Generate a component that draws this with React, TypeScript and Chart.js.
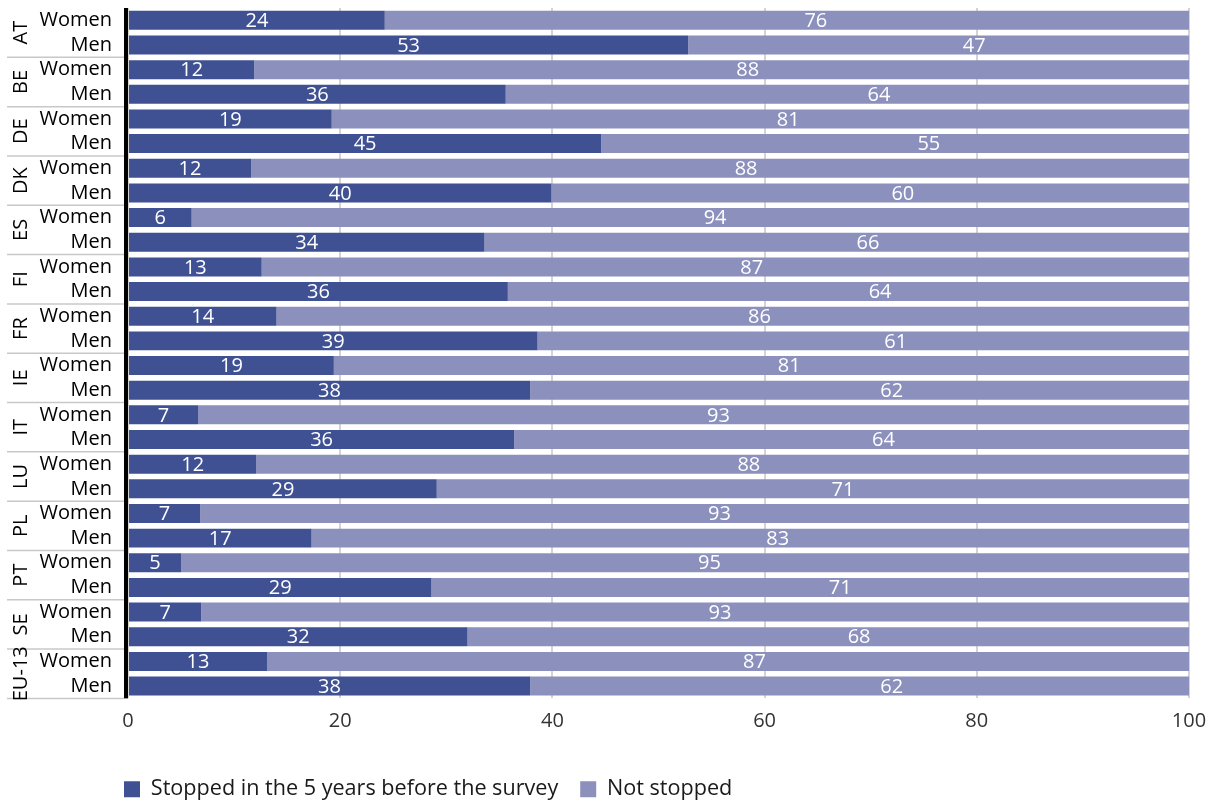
import React, { useEffect, useRef } from "react";
import { Chart, registerables } from "chart.js";

Chart.register(...registerables);

const countries = ["AT", "BE", "DE", "DK", "ES", "FI", "FR", "IE", "IT", "LU", "PL", "PT", "SE", "EU-13"];
const genders = ["Women", "Men"];
const womenStopped = [24.2, 11.9, 19.2, 11.6, 6.0, 12.6, 14.0, 19.4, 6.6, 12.1, 6.8, 5.0, 6.9, 13.1];
const womenNotStopped = [75.8, 88.1, 80.8, 88.4, 94.0, 87.4, 86.0, 80.6, 93.4, 87.9, 93.2, 95.0, 93.1, 86.9];
const menStopped = [52.8, 35.6, 44.6, 39.9, 33.6, 35.8, 38.6, 37.9, 36.4, 29.1, 17.3, 28.6, 32.0, 37.9];
const menNotStopped = [47.2, 64.4, 55.4, 60.1, 66.4, 64.2, 61.4, 62.1, 63.6, 70.9, 82.7, 71.4, 68.0, 62.1];
const seriesNames = ["Stopped in the 5 years before the survey", "Not stopped"];
const xMin = 0;
const xMax = 100;
const xStep = 20;

const FONT = "'Open Sans', 'Noto Sans', sans-serif";
const DARK = "#3f5193";
const LIGHT = "#8b90bd";

const overlayPlugin = {
  id: "overlay",
  beforeDraw(chart: any) {
    // start the legend row under the y axis line
    const lg = chart.legend;
    if (lg) {
      lg.left = chart.chartArea.left - 26;
    }
  },
  afterDatasetsDraw(chart: any) {
    const { ctx, chartArea } = chart;
    const yScale = chart.scales.y;
    ctx.save();

    // data labels
    ctx.font = `20px ${FONT}`;
    ctx.fillStyle = "#ffffff";
    ctx.textAlign = "center";
    ctx.textBaseline = "middle";
    chart.data.datasets.forEach((ds: any, di: number) => {
      const meta = chart.getDatasetMeta(di);
      meta.data.forEach((bar: any, i: number) => {
        const v = ds.data[i];
        const p = bar.getProps(["x", "y", "base"], true);
        let cx = (p.x + p.base) / 2;
        if (di === 1) cx = chartArea.left + (cx - chartArea.left) * 1.044;
        ctx.fillText(String(Math.round(v)), cx, p.y + 1);
      });
    });

    // y axis black line
    ctx.fillStyle = "#000000";
    ctx.fillRect(chartArea.left - 4, chartArea.top, 4, chartArea.bottom - chartArea.top);

    // group separators
    ctx.strokeStyle = "#c8c8c8";
    ctx.lineWidth = 1.5;
    for (let g = 0; g < countries.length; g++) {
      let yy: number;
      if (g === countries.length - 1) yy = chartArea.bottom;
      else yy = (yScale.getPixelForValue(2 * g + 1) + yScale.getPixelForValue(2 * g + 2)) / 2;
      ctx.beginPath();
      ctx.moveTo(7, yy);
      ctx.lineTo(chartArea.left - 4, yy);
      ctx.stroke();
    }

    // country labels (rotated)
    ctx.fillStyle = "#000000";
    ctx.font = `20px ${FONT}`;
    ctx.textAlign = "center";
    ctx.textBaseline = "alphabetic";
    countries.forEach((c, g) => {
      const cy = (yScale.getPixelForValue(2 * g) + yScale.getPixelForValue(2 * g + 1)) / 2;
      ctx.save();
      ctx.translate(27, cy);
      ctx.rotate(-Math.PI / 2);
      ctx.fillText(c, 0, 0);
      ctx.restore();
    });

    ctx.restore();
  },
};

export default function App() {
  const ref = useRef<HTMLCanvasElement | null>(null);

  useEffect(() => {
    document.body.style.margin = "0";
    const canvas = ref.current;
    if (!canvas) return;

    const labels = countries.flatMap(() => genders);
    const stopped = countries.flatMap((_, i) => [womenStopped[i], menStopped[i]]);
    const notStopped = countries.flatMap((_, i) => [womenNotStopped[i], menNotStopped[i]]);

    const chart = new Chart(canvas, {
      type: "bar",
      data: {
        labels,
        datasets: [
          {
            label: seriesNames[0],
            data: stopped,
            backgroundColor: DARK,
            borderWidth: 0,
            barPercentage: 0.77,
            categoryPercentage: 1,
          },
          {
            label: seriesNames[1],
            data: notStopped,
            backgroundColor: LIGHT,
            borderWidth: 0,
            barPercentage: 0.77,
            categoryPercentage: 1,
          },
        ],
      },
      options: {
        indexAxis: "y",
        responsive: false,
        maintainAspectRatio: false,
        animation: false,
        layout: { padding: { left: 0, right: 20, top: 8, bottom: -10 } },
        scales: {
          x: {
            stacked: true,
            min: xMin,
            max: xMax,
            ticks: {
              stepSize: xStep,
              padding: 11,
              color: "#333333",
              font: { family: FONT, size: 20 },
            },
            grid: { color: "#d4d4d4", lineWidth: 2, drawTicks: false },
            border: { display: false },
            afterFit: (s: any) => {
              s.height = 58;
              s.paddingLeft = 0;
              s.paddingRight = 0;
            },
          },
          y: {
            stacked: true,
            ticks: {
              padding: 16,
              color: "#000000",
              font: { family: FONT, size: 20 },
              autoSkip: false,
            },
            grid: { display: false, drawTicks: false },
            border: { display: false },
            afterFit: (s: any) => {
              s.width = 128;
              s.paddingTop = 0;
              s.paddingBottom = 0;
            },
          },
        },
        plugins: {
          legend: {
            position: "bottom",
            align: "start",
            labels: {
              boxWidth: 16,
              boxHeight: 16,
              padding: 22,
              color: "#1a1a1a",
              font: { family: FONT, size: 21.6 },
            },
          },
          tooltip: { enabled: false },
        },
      },
      plugins: [overlayPlugin],
    } as any);

    return () => chart.destroy();
  }, []);

  return (
    <div style={{ width: 1209, height: 800 }}>
      <canvas ref={ref} width={1209} height={800} style={{ display: "block" }} />
    </div>
  );
}
